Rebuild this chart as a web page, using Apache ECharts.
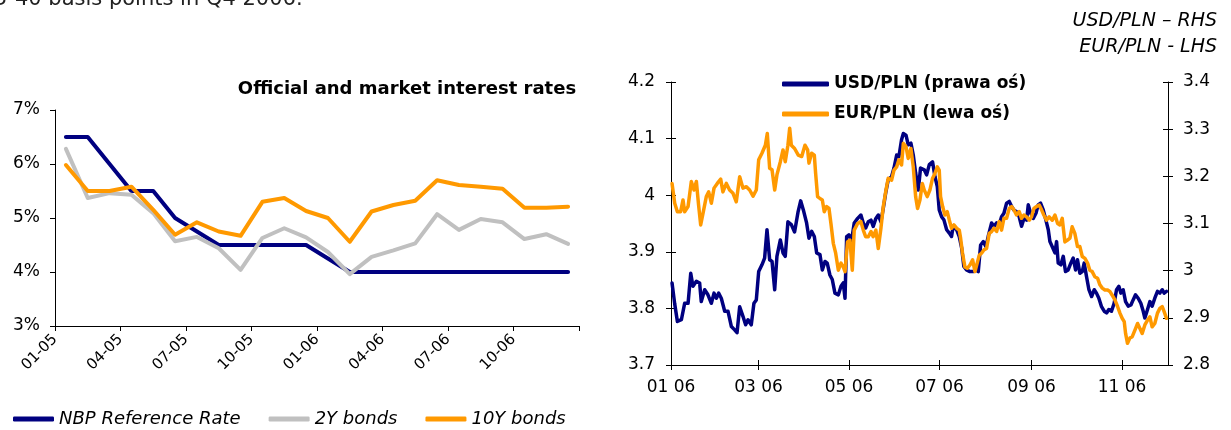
<!DOCTYPE html>
<html>
<head>
<meta charset="utf-8">
<script src="https://cdn.jsdelivr.net/npm/echarts@6/dist/echarts.min.js"></script>
<style>
  html, body { margin: 0; padding: 0; background: #fff; }
  #chart { width: 1231px; height: 430px; }
</style>
</head>
<body>
<div id="chart"></div>
<script>
// left panel: monthly rates, Jan 2005 - Dec 2006
const months = ['01-05','02-05','03-05','04-05','05-05','06-05','07-05','08-05','09-05','10-05','11-05','12-05',
                '01-06','02-06','03-06','04-06','05-06','06-06','07-06','08-06','09-06','10-06','11-06','12-06'];
const monthTicks = ['01-05','04-05','07-05','10-05','01-06','04-06','07-06','10-06'];
const nbpRate = [6.5,6.5,6.0,5.5,5.5,5.0,4.75,4.5,4.5,4.5,4.5,4.5,4.25,4.0,4.0,4.0,4.0,4.0,4.0,4.0,4.0,4.0,4.0,4.0];
const bonds2Y = [6.28,5.37,5.46,5.43,5.09,4.57,4.65,4.44,4.04,4.63,4.81,4.64,4.37,3.96,4.28,4.40,4.53,5.07,4.78,4.98,4.92,4.61,4.70,4.52];
const bonds10Y = [5.98,5.50,5.50,5.58,5.15,4.69,4.92,4.75,4.67,5.30,5.37,5.13,5.00,4.56,5.12,5.24,5.32,5.70,5.61,5.58,5.54,5.19,5.19,5.21];

// right panel: daily FX, day number counted from 1 Jan 2006
const fxTickDays = [0, 59, 120, 181, 243, 304];
const fxTickLabels = ['01 06','03 06','05 06','07 06','09 06','11 06'];

const usdDays = [0.7,2.5,4.3,7.0,9.2,11.5,13.3,14.8,17.1,19.3,20.4,22.7,24.9,27.2,29.0,30.6,32.1,33.9,36.2,38.4,
  40.7,42.9,44.5,46.3,48.5,50.3,51.9,54.1,55.9,57.5,59.1,61.3,63.1,64.7,66.5,68.1,69.9,71.4,73.7,75.5,
  77.0,78.8,81.1,83.3,85.6,87.4,89.2,91.4,93.0,94.8,96.6,98.2,100.4,102.0,103.8,105.3,107.1,108.7,110.5,112.8,
  114.6,116.1,117.3,118.4,119.9,121.7,123.5,125.8,128.0,129.6,131.2,133.0,134.8,136.3,138.1,139.7,141.5,143.1,144.7,146.4,
  148.7,150.3,152.1,153.6,155.4,156.6,158.4,159.9,161.7,163.3,164.9,166.7,168.2,170.7,172.3,174.1,176.3,177.9,179.5,180.8,
  182.4,184.0,185.8,187.6,189.1,190.2,192.5,194.3,195.9,197.4,199.2,201.5,203.7,205.5,207.1,208.7,210.5,212.3,213.8,216.1,
  217.7,219.5,221.2,222.8,224.4,226.2,228.0,229.6,231.1,232.9,234.7,236.3,237.9,239.7,240.8,242.4,244.2,246.0,247.5,249.1,
  250.9,252.7,254.3,255.4,257.0,258.8,259.9,261.0,262.8,264.4,265.9,267.7,269.5,271.1,272.7,274.0,275.6,277.2,278.5,280.1,
  281.7,283.5,285.3,286.8,288.4,290.2,292.0,293.6,295.1,296.9,298.7,300.3,301.9,303.2,304.8,306.4,308.2,310.0,311.5,313.1,
  314.9,316.7,318.3,319.4,321.2,322.8,324.3,326.1,327.9,329.5,331.1,332.4,334.0];
const usdPln = [3.845,3.808,3.777,3.780,3.809,3.809,3.862,3.839,3.848,3.845,3.812,3.833,3.824,3.809,3.827,3.818,3.827,3.818,3.795,3.795,
  3.768,3.762,3.757,3.803,3.786,3.771,3.780,3.771,3.809,3.815,3.865,3.877,3.889,3.939,3.886,3.883,3.833,3.892,3.921,3.898,
  3.892,3.953,3.948,3.935,3.970,3.990,3.974,3.951,3.924,3.936,3.927,3.898,3.895,3.868,3.883,3.880,3.859,3.851,3.827,3.824,
  3.839,3.845,3.818,3.927,3.930,3.920,3.951,3.959,3.965,3.951,3.942,3.953,3.956,3.945,3.959,3.965,3.953,3.977,4.004,4.027,
  4.033,4.048,4.071,4.068,4.098,4.109,4.106,4.089,4.092,4.071,4.039,4.009,4.048,4.045,4.036,4.054,4.059,4.033,4.015,3.974,
  3.962,3.956,3.939,3.933,3.927,3.945,3.939,3.927,3.907,3.874,3.868,3.865,3.865,3.868,3.865,3.912,3.918,3.909,3.927,3.951,
  3.945,3.951,3.948,3.962,3.968,3.986,3.989,3.980,3.974,3.971,3.962,3.945,3.959,3.956,3.983,3.968,3.959,3.968,3.983,3.986,
  3.974,3.956,3.939,3.918,3.909,3.898,3.918,3.880,3.877,3.892,3.865,3.868,3.880,3.889,3.868,3.886,3.862,3.865,3.880,3.856,
  3.833,3.821,3.833,3.827,3.818,3.803,3.795,3.792,3.798,3.795,3.809,3.833,3.839,3.827,3.833,3.812,3.804,3.806,3.815,3.824,
  3.818,3.809,3.795,3.783,3.798,3.812,3.804,3.818,3.830,3.827,3.833,3.827,3.830];

const eurDays = [0.7,2.5,4.3,6.5,8.1,9.2,11.5,13.7,15.5,17.1,18.6,20.0,21.6,23.8,25.4,27.2,29.0,31.2,33.5,35.0,
  37.3,39.5,41.8,44.0,46.3,48.5,50.8,53.0,55.3,57.5,59.1,61.3,63.6,64.9,66.5,68.1,69.9,71.4,73.7,75.5,
  77.0,78.8,80.0,81.1,83.3,85.8,88.1,90.3,92.1,93.0,94.8,96.6,97.5,98.8,100.4,102.0,103.3,104.9,106.5,107.8,
  109.4,111.0,112.8,114.6,116.1,117.3,119.0,120.6,122.2,123.5,125.8,128.0,129.6,131.2,133.0,134.8,136.3,138.1,139.7,141.5,
  143.1,144.7,146.4,148.7,150.3,152.1,153.6,155.4,156.6,158.4,159.9,161.7,163.3,164.9,166.2,167.8,169.4,170.7,172.7,174.5,
  176.3,177.9,179.5,180.8,181.7,183.1,184.6,186.2,187.6,189.1,190.7,192.5,194.3,195.2,196.5,198.1,199.7,201.5,203.3,204.9,
  206.4,207.8,209.3,210.9,212.7,214.5,216.1,217.7,219.5,221.2,222.8,224.4,226.2,228.0,229.6,231.1,232.9,234.7,236.3,237.9,
  239.7,241.5,243.0,244.6,246.4,248.2,249.8,251.3,253.1,254.9,257.0,258.8,260.6,262.1,263.7,265.5,267.3,268.9,270.4,272.2,
  274.0,275.6,277.2,279.0,280.8,282.3,283.9,285.7,287.5,289.1,290.7,292.5,294.3,295.8,297.4,299.2,301.0,302.6,304.1,305.5,
  306.4,307.7,309.3,310.9,312.7,314.5,316.0,317.6,319.4,321.2,322.8,324.3,326.1,327.9,329.5,331.1,332.4,334.0];
const eurPln = [3.185,3.143,3.125,3.125,3.150,3.125,3.136,3.189,3.171,3.189,3.139,3.097,3.122,3.157,3.167,3.143,3.175,3.185,3.194,3.167,
  3.185,3.171,3.164,3.146,3.199,3.175,3.178,3.171,3.158,3.171,3.235,3.249,3.266,3.291,3.217,3.214,3.171,3.203,3.231,3.256,
  3.231,3.266,3.302,3.266,3.259,3.245,3.242,3.266,3.256,3.228,3.249,3.245,3.206,3.157,3.153,3.150,3.125,3.136,3.132,3.100,
  3.058,3.037,3.001,3.016,3.008,2.998,3.061,3.065,3.001,3.086,3.100,3.104,3.086,3.072,3.072,3.083,3.072,3.086,3.047,3.090,
  3.136,3.167,3.196,3.192,3.213,3.220,3.235,3.224,3.270,3.263,3.238,3.259,3.220,3.157,3.132,3.150,3.185,3.171,3.157,3.171,
  3.196,3.206,3.220,3.213,3.157,3.136,3.118,3.125,3.107,3.090,3.097,3.090,3.086,3.069,3.037,3.008,3.005,3.012,3.023,2.998,
  3.016,3.033,3.037,3.044,3.047,3.079,3.083,3.090,3.083,3.104,3.086,3.111,3.111,3.132,3.136,3.129,3.118,3.125,3.111,3.118,
  3.114,3.107,3.114,3.132,3.136,3.139,3.129,3.118,3.107,3.114,3.107,3.118,3.100,3.097,3.111,3.061,3.065,3.069,3.093,3.079,
  3.051,3.051,3.030,3.026,3.016,3.001,2.998,2.987,2.984,2.970,2.963,2.959,2.959,2.956,2.948,2.938,2.924,2.910,2.899,2.892,
  2.867,2.846,2.857,2.860,2.874,2.888,2.878,2.867,2.885,2.895,2.902,2.881,2.888,2.910,2.920,2.924,2.913,2.899];

const navy = '#000080';
const grey = '#c0c0c0';
const orange = '#ff9900';
const sans = 'DejaVu Sans';
const black = '#000';

const chart = echarts.init(document.getElementById('chart'));

const line = { lineStyle: { color: black, width: 1 }, onZero: false };

function lineSeries(name, color, width, xi, yi, data) {
  return {
    name: name,
    type: 'line',
    xAxisIndex: xi,
    yAxisIndex: yi,
    data: data,
    symbol: 'none',
    color: color,
    itemStyle: { color: color },
    lineStyle: { color: color, width: width, cap: 'round', join: 'round' },
    animation: false
  };
}

const option = {
  backgroundColor: '#fff',
  animation: false,
  grid: [
    { left: 55, right: 652, top: 110, bottom: 104 },
    { left: 671, right: 63, top: 82, bottom: 65 }
  ],
  xAxis: [
    {
      gridIndex: 0, type: 'category', data: months, boundaryGap: true, position: 'bottom',
      axisLine: line, axisTick: { show: false }, axisLabel: { show: false }
    },
    {
      gridIndex: 0, type: 'value', min: 0, max: 24, interval: 3, position: 'bottom',
      axisLine: { show: false, onZero: false }, splitLine: { show: false },
      axisTick: { length: 5, lineStyle: { color: black } },
      axisLabel: {
        rotate: 45, margin: 11,
        fontFamily: sans, fontSize: 15, color: black,
        formatter: v => monthTicks[v / 3] || ''
      }
    },
    {
      gridIndex: 1, type: 'value', min: 0, max: 335, position: 'bottom',
      axisLine: line, splitLine: { show: false },
      axisTick: { customValues: fxTickDays, length: 5, lineStyle: { color: black } },
      axisLabel: {
        customValues: fxTickDays, margin: 14,
        fontFamily: sans, fontSize: 17, color: black,
        formatter: v => fxTickLabels[fxTickDays.indexOf(v)] || ''
      }
    },
    {
      gridIndex: 1, type: 'value', min: 0, max: 335, position: 'bottom',
      axisLine: { show: false, onZero: false }, splitLine: { show: false },
      axisTick: { inside: true, customValues: fxTickDays, length: 5, lineStyle: { color: black } },
      axisLabel: { show: false }
    }
  ],
  yAxis: [
    {
      gridIndex: 0, type: 'value', min: 3, max: 7, interval: 1,
      axisLine: Object.assign({ show: true }, line), splitLine: { show: false },
      axisTick: { show: true, length: 5, lineStyle: { color: black } },
      axisLabel: { formatter: '{value}%', margin: 15, fontFamily: sans, fontSize: 17, color: black }
    },
    {
      gridIndex: 1, type: 'value', position: 'left', min: 3.7, max: 4.2, interval: 0.1,
      axisLine: Object.assign({ show: true }, line), splitLine: { show: false },
      axisTick: { show: true, length: 5, lineStyle: { color: black } },
      axisLabel: { margin: 16, fontFamily: sans, fontSize: 17, color: black }
    },
    {
      gridIndex: 1, type: 'value', position: 'right', min: 2.8, max: 3.4, interval: 0.1,
      axisLine: Object.assign({ show: true }, line), splitLine: { show: false },
      axisTick: { show: true, length: 5, lineStyle: { color: black } },
      axisLabel: { margin: 15, fontFamily: sans, fontSize: 17, color: black }
    },
    {
      gridIndex: 1, type: 'value', position: 'left', min: 3.7, max: 4.2, interval: 0.1,
      axisLine: { show: false, onZero: false }, splitLine: { show: false },
      axisTick: { show: true, inside: true, length: 5, lineStyle: { color: black } },
      axisLabel: { show: false }
    },
    {
      gridIndex: 1, type: 'value', position: 'right', min: 2.8, max: 3.4, interval: 0.1,
      axisLine: { show: false, onZero: false }, splitLine: { show: false },
      axisTick: { show: true, inside: true, length: 5, lineStyle: { color: black } },
      axisLabel: { show: false }
    }
  ],
  legend: [
    {
      data: ['NBP Reference Rate', '2Y bonds', '10Y bonds'],
      left: 13, top: 408, padding: 0, itemWidth: 41, itemHeight: 5, itemGap: 28,
      icon: 'roundRect',
      textStyle: { fontFamily: sans, fontStyle: 'italic', fontSize: 18, color: black, lineHeight: 22 }
    },
    {
      data: ['USD/PLN (prawa oś)', 'EUR/PLN (lewa oś)'],
      orient: 'vertical', left: 782, top: 74, padding: 0, itemWidth: 47, itemHeight: 5, itemGap: 10,
      icon: 'roundRect',
      textStyle: { fontFamily: sans, fontWeight: 'bold', fontSize: 17, color: black, lineHeight: 20 }
    }
  ],
  graphic: [
    {
      type: 'text', x: -6, y: 0,
      style: { text: '5-40 basis points in Q4 2006.', font: '21px "DejaVu Sans"', fill: '#222', align: 'left', verticalAlign: 'middle' }
    },
    {
      type: 'text', x: 407, y: 89,
      style: { text: 'Official and market interest rates', font: 'bold 18px "DejaVu Sans"', fill: black, align: 'center', verticalAlign: 'middle' }
    },
    {
      type: 'text', x: 1217, y: 21,
      style: { text: 'USD/PLN – RHS', font: 'italic 19px "DejaVu Sans"', fill: black, align: 'right', verticalAlign: 'middle' }
    },
    {
      type: 'text', x: 1217, y: 47,
      style: { text: 'EUR/PLN - LHS', font: 'italic 19px "DejaVu Sans"', fill: black, align: 'right', verticalAlign: 'middle' }
    }
  ],
  series: [
    lineSeries('NBP Reference Rate', navy, 4, 0, 0, nbpRate),
    lineSeries('2Y bonds', grey, 4, 0, 0, bonds2Y),
    lineSeries('10Y bonds', orange, 4, 0, 0, bonds10Y),
    lineSeries('USD/PLN (prawa oś)', navy, 3.5, 2, 1, usdDays.map((d, i) => [d, usdPln[i]])),
    lineSeries('EUR/PLN (lewa oś)', orange, 3.5, 2, 2, eurDays.map((d, i) => [d, eurPln[i]]))
  ]
};

chart.setOption(option);
</script>
</body>
</html>
